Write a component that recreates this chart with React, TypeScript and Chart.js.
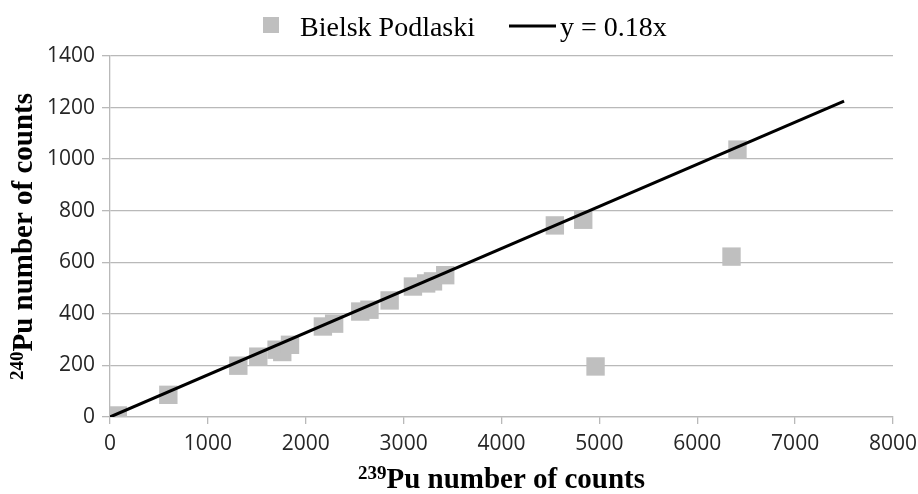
import React, { useEffect, useRef } from "react";
import { Chart, registerables } from "chart.js";

Chart.register(...registerables);

// ---- data ----
const SERIES_NAME = "Bielsk Podlaski";
const FIT_NAME = "y = 0.18x";
const PU239 = [80, 596, 1311, 1515, 1702, 1760, 1839, 2175, 2290, 2557, 2651, 2857, 3095, 3230, 3300, 3425, 4545, 4835, 4961, 6350, 6411];
const PU240 = [6, 86, 199, 234, 261, 252, 280, 351, 362, 409, 416, 452, 506, 518, 526, 550, 743, 765, 196, 622, 1037];
const FIT_X = [0, 7500];
const FIT_Y = [0, 1225];
const X_MIN = 0, X_MAX = 8000, X_STEP = 1000;
const Y_MIN = 0, Y_MAX = 1400, Y_STEP = 200;
const X_TITLE_SUP = "239";
const X_TITLE = "Pu number of counts";
const Y_TITLE_SUP = "240";
const Y_TITLE = "Pu number of counts";

const GREY = "#bfbfbf";
const GRID = "#b9b9b9";
const TITLE_FONT = 'bold 29px "Liberation Serif"';
const SUP_FONT = 'bold 19px "Liberation Serif"';
const LEGEND_FONT = '28px "Liberation Serif"';

function drawSup(ctx: CanvasRenderingContext2D, sup: string, main: string, cx: number, baseline: number) {
  ctx.font = SUP_FONT;
  const w1 = ctx.measureText(sup).width;
  ctx.font = TITLE_FONT;
  const w2 = ctx.measureText(main).width;
  const start = cx - (w1 + w2) / 2;
  ctx.textAlign = "left";
  ctx.textBaseline = "alphabetic";
  ctx.font = SUP_FONT;
  ctx.fillText(sup, start, baseline - 9);
  ctx.font = TITLE_FONT;
  ctx.fillText(main, start + w1, baseline);
}

const textPlugin = {
  id: "customText",
  afterDraw(chart: any) {
    const ctx: CanvasRenderingContext2D = chart.ctx;
    const area = chart.chartArea;
    ctx.save();
    ctx.fillStyle = "#000";
    // x title
    drawSup(ctx, X_TITLE_SUP, X_TITLE, (area.left + area.right) / 2, 488);
    // y title
    ctx.save();
    ctx.translate(32, (area.top + area.bottom) / 2);
    ctx.rotate(-Math.PI / 2);
    drawSup(ctx, Y_TITLE_SUP, Y_TITLE, 0, 0);
    ctx.restore();
    // legend
    ctx.fillStyle = GREY;
    ctx.fillRect(263, 17, 16, 16);
    ctx.fillStyle = "#000";
    ctx.font = LEGEND_FONT;
    ctx.textAlign = "left";
    ctx.textBaseline = "alphabetic";
    ctx.fillText(SERIES_NAME, 300, 36);
    ctx.strokeStyle = "#000";
    ctx.lineWidth = 3;
    ctx.beginPath();
    ctx.moveTo(509, 26);
    ctx.lineTo(556, 26);
    ctx.stroke();
    ctx.fillText(FIT_NAME, 560, 36);
    ctx.restore();
  },
};

const tickFmt = (v: any) => String(v);

export default function App() {
  const ref = useRef<HTMLCanvasElement>(null);
  useEffect(() => {
    document.body.style.margin = "0";
    const canvas = ref.current!;
    const chart = new Chart(canvas, {
      type: "scatter",
      data: {
        datasets: [
          {
            label: SERIES_NAME,
            data: PU239.map((x, i) => ({ x, y: PU240[i] })),
            backgroundColor: GREY,
            borderColor: GREY,
            borderWidth: 0,
            pointStyle: "rect",
            pointRadius: 13,
            order: 2,
          },
          {
            label: FIT_NAME,
            data: FIT_X.map((x, i) => ({ x, y: FIT_Y[i] })),
            showLine: true,
            borderColor: "#000",
            borderWidth: 3,
            pointRadius: 0,
            order: 1,
          } as any,
        ],
      },
      options: {
        responsive: false,
        animation: false,
        layout: { padding: { left: 47, top: 56, right: 25, bottom: 0 } },
        plugins: { legend: { display: false }, tooltip: { enabled: false } },
        scales: {
          x: {
            type: "linear",
            min: X_MIN,
            max: X_MAX,
            ticks: { stepSize: X_STEP, padding: 7, color: "#262626", font: { family: '"Open Sans"', size: 21 }, callback: tickFmt },
            grid: { drawOnChartArea: false, drawTicks: true, tickLength: 7, color: GRID, lineWidth: 1.3 },
            border: { color: GRID, width: 1.3 },
            afterFit: (s: any) => { s.height = 77; s.paddingRight = 0; s.paddingLeft = 0; },
          },
          y: {
            type: "linear",
            min: Y_MIN,
            max: Y_MAX,
            ticks: { stepSize: Y_STEP, padding: 7, color: "#262626", font: { family: '"Open Sans"', size: 21 }, callback: tickFmt },
            grid: { color: GRID, lineWidth: 1.3, tickLength: 8 },
            border: { color: GRID, width: 1.3 },
            afterFit: (s: any) => { s.width = 63; },
          },
        },
      },
      plugins: [textPlugin],
    });
    return () => chart.destroy();
  }, []);
  return (
    <div style={{ width: 918, height: 494 }}>
      <canvas ref={ref} width={918} height={494} />
    </div>
  );
}
